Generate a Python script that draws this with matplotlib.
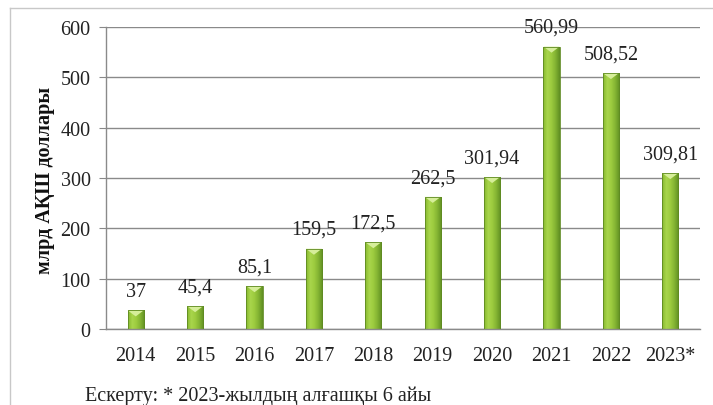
import matplotlib
matplotlib.use("Agg")
import matplotlib.pyplot as plt
import numpy as np
from matplotlib.colors import LinearSegmentedColormap
from matplotlib.patches import Polygon
from matplotlib.lines import Line2D

years = ["2014", "2015", "2016", "2017", "2018", "2019", "2020", "2021", "2022", "2023*"]
values = [37, 45.4, 85.1, 159.5, 172.5, 262.5, 301.94, 560.99, 508.52, 309.81]
labels = ["37", "45,4", "85,1", "159,5", "172,5", "262,5", "301,94", "560,99", "508,52", "309,81"]

plt.rcParams["font.family"] = ["Liberation Serif", "DejaVu Serif"]

W, H = 713, 406
fig = plt.figure(figsize=(W / 100, H / 100), dpi=100)
ax = fig.add_axes([106 / W, (H - 330) / H, 594 / W, 302 / H])

x = np.arange(len(years))
width = 0.27
bars = ax.bar(x, values, width=width, color="none", edgecolor="#5f8a22", linewidth=0.6, zorder=3)

# horizontal shading to mimic the cylinder-like bars
cmap = LinearSegmentedColormap.from_list(
    "g", ["#86b82e", "#a9d64c", "#9ccb3e", "#82b232", "#5f8e22"])
grad = np.linspace(0, 1, 64).reshape(1, -1)
for b in bars:
    x0, w, h = b.get_x(), b.get_width(), b.get_height()
    im = ax.imshow(grad, cmap=cmap, extent=[x0, x0 + w, 0, h], aspect="auto", zorder=2)
    im.set_clip_path(b)
    cap = Polygon([[x0, h], [x0 + w, h], [x0 + w / 2, h - 12]], closed=True,
                  facecolor="#d6ee9a", edgecolor="none", zorder=2.5)
    ax.add_patch(cap)

for xi, v, lab in zip(x, values, labels):
    ax.annotate(lab, (xi, v), xytext=(0, 7), textcoords="offset points",
                ha="center", va="bottom", fontsize=14.5, color="#222222")

ax.set_xlim(-0.5, len(years) - 0.5)
ax.set_ylim(0, 600)
ax.set_yticks(range(0, 601, 100))
ax.set_xticks(x)
ax.set_xticklabels(years)
ax.tick_params(axis="both", labelsize=14.5, colors="#222222")
ax.tick_params(axis="x", length=0, pad=12)
ax.tick_params(axis="y", length=5, color="#888888", pad=6)
ax.grid(axis="y", color="#8a8a8a", linewidth=1.0, zorder=0)
ax.set_axisbelow(True)
for s in ("top", "right"):
    ax.spines[s].set_visible(False)
for s in ("left", "bottom"):
    ax.spines[s].set_color("#8a8a8a")
    ax.spines[s].set_linewidth(1.0)

fig.text(45 / W, 1 - 180 / H, "млрд АҚШ доллары", rotation=90, ha="center", va="center",
         fontsize=14.5, fontweight="bold", color="#111111")
fig.text(85 / W, 1 - 396 / H, "Ескерту: * 2023-жылдың алғашқы 6 айы", ha="left", va="center",
         fontsize=14.5, color="#222222")

# outer frame lines (top and left)
fig.add_artist(Line2D([10 / W, 1], [1 - 9 / H, 1 - 9 / H], color="#c8c8c8", linewidth=1.0))
fig.add_artist(Line2D([10 / W, 10 / W], [0, 1 - 9 / H], color="#c8c8c8", linewidth=1.0))

fig.savefig("out.png", dpi=100)
